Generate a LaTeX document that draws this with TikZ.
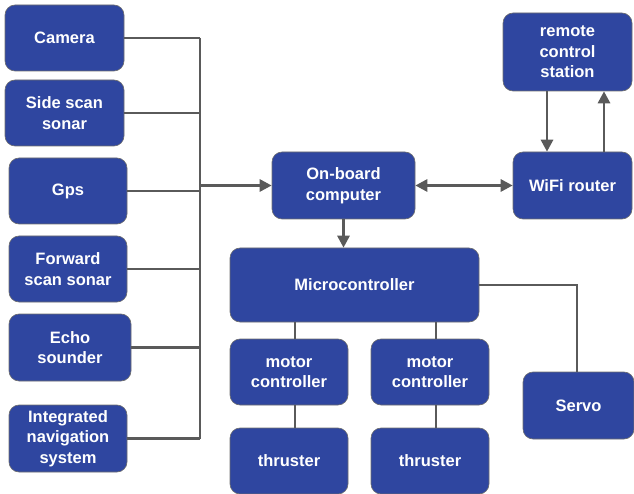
\documentclass[tikz,border=0pt]{standalone}
\usepackage{fontspec}
\setmainfont{Liberation Sans}
\usetikzlibrary{arrows.meta}
\definecolor{boxblue}{RGB}{47,70,160}
\definecolor{wiregray}{RGB}{90,90,90}
\definecolor{edgegray}{RGB}{110,110,110}
\begin{document}
\begin{tikzpicture}[x=1pt,y=-1pt,
  box/.style={rectangle, rounded corners=10pt, fill=boxblue, draw=edgegray, line width=0.6pt,
    text=white, font=\fontsize{16.5}{20.5}\selectfont\bfseries, align=center, inner sep=0pt},
  wire/.style={draw=wiregray, line width=2.8pt},
  arr/.style={wire, -{Triangle[length=12pt,width=12pt]}},
  darr/.style={wire, {Triangle[length=12pt,width=12pt]}-{Triangle[length=12pt,width=12pt]}}]
\useasboundingbox (0,0) rectangle (634,494);
% sensors
\node[box, minimum width=119pt, minimum height=66pt] (cam) at (64.5,38) {Camera};
\node[box, minimum width=119pt, minimum height=66pt] (sss) at (64.5,113) {Side scan\\sonar};
\node[box, minimum width=118pt, minimum height=66pt] (gps) at (68,191) {Gps};
\node[box, minimum width=118pt, minimum height=66pt] (fss) at (68,269) {Forward\\scan sonar};
\node[box, minimum width=122pt, minimum height=67pt] (echo) at (70,347.5) {Echo\\sounder};
\node[box, minimum width=118pt, minimum height=67pt] (ins) at (68,438.5) {Integrated\\navigation\\system};
% main
\node[box, minimum width=143pt, minimum height=67pt] (obc) at (343.5,185.5) {On-board\\computer};
\node[box, minimum width=119pt, minimum height=67pt] (wifi) at (572.5,185.5) {WiFi router};
\node[box, minimum width=129pt, minimum height=78pt] (rcs) at (567.5,52) {remote\\control\\station};
\node[box, minimum width=249pt, minimum height=74pt] (micro) at (354.5,285) {Microcontroller};
\node[box, minimum width=118pt, minimum height=66pt] (mc1) at (289,372) {motor\\controller};
\node[box, minimum width=118pt, minimum height=66pt] (mc2) at (430,372) {motor\\controller};
\node[box, minimum width=118pt, minimum height=66pt] (th1) at (289,461) {thruster};
\node[box, minimum width=118pt, minimum height=66pt] (th2) at (430,461) {thruster};
\node[box, minimum width=111pt, minimum height=67pt] (servo) at (578.5,405.5) {Servo};
% helper coordinates
\coordinate (bus) at (200,0);
\coordinate (dn) at (547,0);
\coordinate (up) at (604,0);
\coordinate (m1) at (295,0);
\coordinate (m2) at (436,0);
\coordinate (sv) at (577,0);
% bus
\draw[wire] (cam.east -| bus) -- (ins.east -| bus);
\foreach \n in {cam,sss,gps,fss,echo,ins} \draw[wire] (\n.east) -- (\n.east -| bus);
\draw[arr] (obc.west -| bus) -- (obc.west);
\draw[darr] (obc.east) -- (wifi.west);
\draw[arr] (rcs.south -| dn) -- (wifi.north -| dn);
\draw[arr] (wifi.north -| up) -- (rcs.south -| up);
\draw[arr] (obc.south) -- (obc.south |- micro.north);
\draw[wire] (micro.south -| m1) -- (mc1.north -| m1);
\draw[wire] (micro.south -| m2) -- (mc2.north -| m2);
\draw[wire] (mc1.south -| m1) -- (th1.north -| m1);
\draw[wire] (mc2.south -| m2) -- (th2.north -| m2);
\draw[wire] (micro.east) -| (servo.north -| sv);
\end{tikzpicture}
\end{document}
